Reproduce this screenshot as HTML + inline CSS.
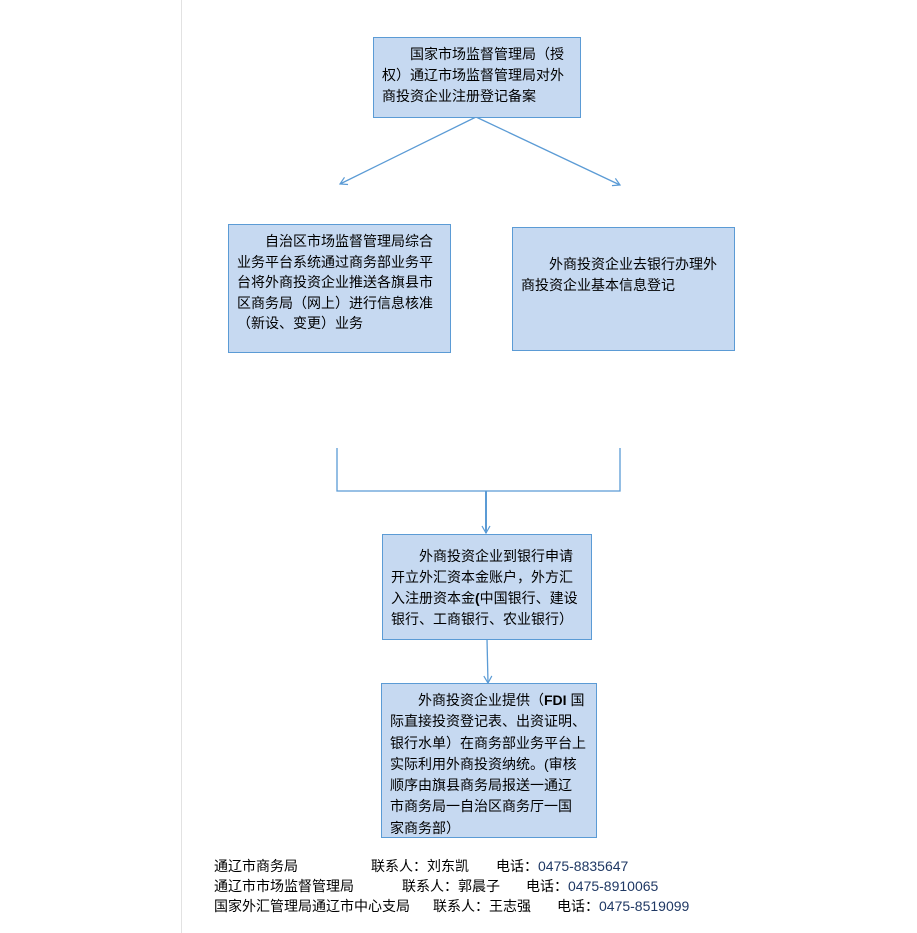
<!DOCTYPE html>
<html><head><meta charset="utf-8"><style>
body{margin:0;width:917px;height:933px;background:#fff;position:relative;overflow:hidden;font-family:"Liberation Sans","Noto Sans CJK SC",sans-serif;font-size:14px;color:#000}
.b{position:absolute;background:#c6d9f1;border:1px solid #5b9bd5;box-sizing:border-box;padding:6px 0 0 8px;line-height:21px;white-space:nowrap}
.t{position:absolute;white-space:nowrap;line-height:20px}
.n{color:#1f3864}
</style></head><body>
<div style="position:absolute;left:181px;top:0;width:1px;height:933px;background:#e2e2e2"></div>
<svg width="917" height="933" style="position:absolute;left:0;top:0">
<defs><marker id="a" markerWidth="10" markerHeight="10" refX="8" refY="5" orient="auto" markerUnits="userSpaceOnUse"><path d="M1,1 L8,5 L1,9" fill="none" stroke="#5b9bd5" stroke-width="1.2"/></marker></defs>
<g stroke="#5b9bd5" stroke-width="1.3" fill="none">
<line x1="476" y1="117" x2="340" y2="184" marker-end="url(#a)"/>
<line x1="476" y1="117" x2="620" y2="185" marker-end="url(#a)"/>
<polyline points="337,448 337,491 620,491 620,448"/>
<line x1="486" y1="491" x2="486" y2="533" stroke-width="2" marker-end="url(#a)"/>
<line x1="487" y1="639" x2="488" y2="683" marker-end="url(#a)"/>
</g></svg>
<div class="b" style="left:373px;top:37px;width:208px;height:81px">　　国家市场监督管理局（授<br>权）通辽市场监督管理局对外<br>商投资企业注册登记备案</div>
<div class="b" style="left:228px;top:224px;width:223px;height:129px;line-height:20.5px">　　自治区市场监督管理局综合<br>业务平台系统通过商务部业务平<br>台将外商投资企业推送各旗县市<br>区商务局（网上）进行信息核准<br>（新设、变更）业务</div>
<div class="b" style="left:512px;top:227px;width:223px;height:124px;padding-top:26px">　　外商投资企业去银行办理外<br>商投资企业基本信息登记</div>
<div class="b" style="left:382px;top:534px;width:210px;height:106px;padding-top:11px">　　外商投资企业到银行申请<br>开立外汇资本金账户，外方汇<br>入注册资本金<b>(</b>中国银行、建设<br>银行、工商银行、农业银行）</div>
<div class="b" style="left:381px;top:683px;width:216px;height:155px;padding-top:6px;line-height:21.3px">　　外商投资企业提供（<b>FDI</b> 国<br>际直接投资登记表、出资证明、<br>银行水单）在商务部业务平台上<br>实际利用外商投资纳统。(审核<br>顺序由旗县商务局报送一通辽<br>市商务局一自治区商务厅一国<br>家商务部）</div>
<div class="t" style="left:214px;top:856px">通辽市商务局</div>
<div class="t" style="left:371px;top:856px">联系人：刘东凯</div>
<div class="t" style="left:496px;top:856px">电话：<span class="n">0475-8835647</span></div>
<div class="t" style="left:214px;top:876px">通辽市市场监督管理局</div>
<div class="t" style="left:402px;top:876px">联系人：郭晨子</div>
<div class="t" style="left:526px;top:876px">电话：<span class="n">0475-8910065</span></div>
<div class="t" style="left:214px;top:896px">国家外汇管理局通辽市中心支局</div>
<div class="t" style="left:433px;top:896px">联系人：王志强</div>
<div class="t" style="left:557px;top:896px">电话：<span class="n">0475-8519099</span></div>
</body></html>
